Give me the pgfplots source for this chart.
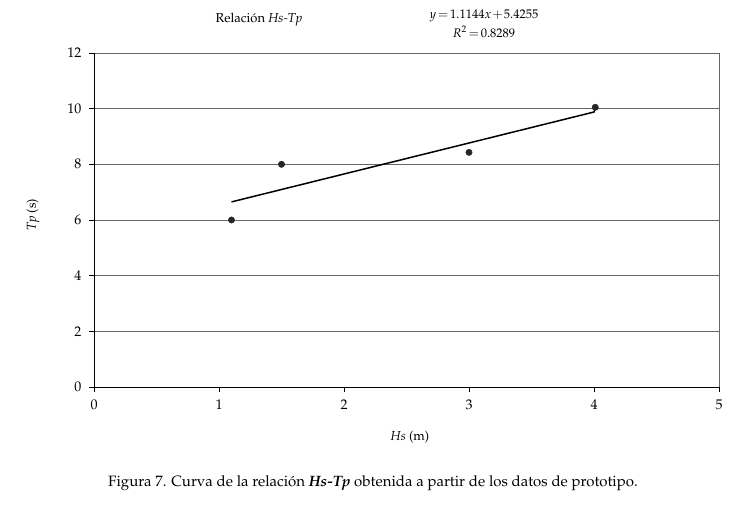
\documentclass[border=0pt]{standalone}
\usepackage[T1]{fontenc}
\usepackage{mathpazo}
\usepackage{pgfplots}
\pgfplotsset{compat=1.18}

\begin{document}
\begin{tikzpicture}[x=1pt,y=1pt]
\path[use as bounding box] (0,0) rectangle (753,505);
\fontsize{13}{15}\selectfont
\begin{axis}[
    at={(94pt,118pt)}, anchor=origin,
    scale only axis,
    width=625pt, height=334pt,
    xmin=0, xmax=5, ymin=0, ymax=12,
    xtick={0,1,...,5}, ytick={0,2,...,12},
    axis x line*=bottom, axis y line*=left,
    axis line style={black, line width=0.8pt},
    tick align=outside, major tick length=5pt,
    tick style={black, line width=0.6pt},
    ymajorgrids, grid style={gray!80!black, line width=0.7pt},
    ticklabel style={font=\fontsize{14}{16}\selectfont},
    xticklabel style={yshift=-3pt},
    yticklabel style={xshift=-3pt},
    clip=false,
]
\draw[gray!80!black, line width=0.7pt] (rel axis cs:1,0) -- (rel axis cs:1,1);
\addplot[black, line width=1.5pt] coordinates {(1.1,6.65) (4.0,9.88) (4.01,10.0)};
\addplot[only marks, mark=*, mark size=3.2pt, color=black!85] coordinates {
    (1.1,6.0) (1.5,8.0) (3.0,8.43) (4.01,10.05)
};
\end{axis}
\node at (259,485) {Relaci\'on \textit{Hs-Tp}};
\begin{scope}[font=\fontsize{12.5}{14}\selectfont]
\node at (484,489) {\medmuskip=1.5mu\thickmuskip=2.5mu $y = 1.1144x + 5.4255$};
\node at (484,473) {\thickmuskip=2.5mu $R^2 = 0.8289$};
\end{scope}
\node[rotate=90] at (33,290) {\textit{Tp} (s)};
\node at (410,68) {\textit{Hs} (m)};
\node[font=\fontsize{15}{17}\selectfont] at (373,22) {Figura 7. Curva de la relaci\'on \textbf{\textit{Hs-Tp}} obtenida a partir de los datos de prototipo.};
\end{tikzpicture}
\end{document}
